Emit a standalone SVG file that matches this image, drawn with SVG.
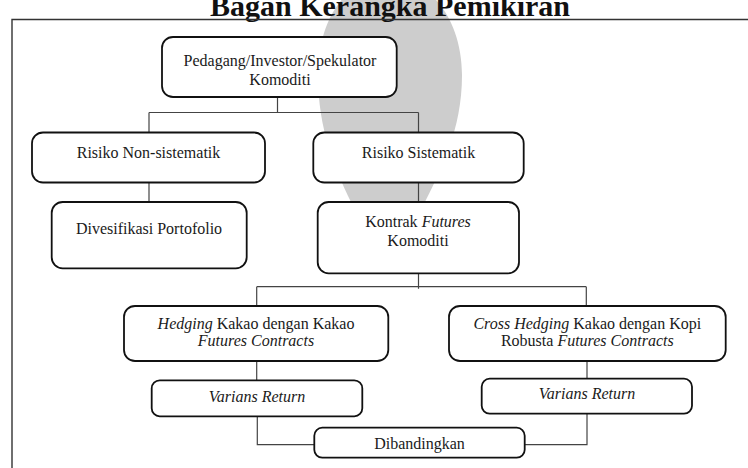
<svg xmlns="http://www.w3.org/2000/svg" width="748" height="468" viewBox="0 0 748 468">
<style>
.box{fill:#fff;stroke:#111;stroke-width:1.8}
.t{font-family:"Liberation Serif","Times New Roman",serif;font-size:16px;fill:#1a1a1a;text-anchor:middle}
.i{font-style:italic}
.conn{fill:none;stroke:#444;stroke-width:1.2}
</style>
<rect width="748" height="468" fill="#fff"/>
<path id="watermark" d="M388,-22 C432,-22 462,22 462,75 C462,130 441,170 421,210 L388,272 L355,210 C335,170 318,130 318,75 C318,22 344,-22 388,-22 Z" fill="#cdcdcd"/>
<text x="390" y="16" font-family="'Liberation Serif','Times New Roman',serif" font-size="30" font-weight="bold" fill="#111" text-anchor="middle">Bagan Kerangka Pemikiran</text>
<path id="frame" d="M12,468 V19.5 H748" fill="none" stroke="#333" stroke-width="1.4"/>
<g id="connectors" class="conn">
<path d="M277.5,97 V112.5 M149,112.5 H418.5 M149,112.5 V132.5 M418.5,112.5 V132.5"/>
<path d="M149,182.5 V202"/>
<path d="M418.5,182.5 V202"/>
<path d="M418.5,273.3 V288.7 M256.7,286.7 H586.3 M256.7,286.7 V306 M586.3,286.7 V306"/>
<path d="M256.7,361 V380.3"/>
<path d="M587,361 V378.7"/>
<path d="M257.3,416.3 V444.7 H314.3"/>
<path d="M587,413.7 V444.7 H524.7"/>
</g>
<g id="n-pedagang">
<rect class="box" x="162" y="37" width="234.7" height="60" rx="11"/>
<text class="t" x="280" y="65.5">Pedagang/Investor/Spekulator</text>
<text class="t" x="280" y="84.5">Komoditi</text>
</g>
<g id="n-nonsistematik">
<rect class="box" x="32" y="132.5" width="233" height="50" rx="11"/>
<text class="t" x="148.5" y="158">Risiko Non-sistematik</text>
</g>
<g id="n-sistematik">
<rect class="box" x="313.3" y="132.5" width="210.4" height="50" rx="11"/>
<text class="t" x="418.5" y="158">Risiko Sistematik</text>
</g>
<g id="n-diversifikasi">
<rect class="box" x="51.7" y="202" width="195" height="66.3" rx="11"/>
<text class="t" x="149" y="234.3">Divesifikasi Portofolio</text>
</g>
<g id="n-kontrak">
<rect class="box" x="317.7" y="202" width="201.3" height="71.3" rx="11"/>
<text class="t" x="418" y="227">Kontrak <tspan class="i">Futures</tspan></text>
<text class="t" x="418" y="246">Komoditi</text>
</g>
<g id="n-hedging">
<rect class="box" x="124" y="306" width="264.3" height="55" rx="11"/>
<text class="t" x="256" y="329"><tspan class="i">Hedging</tspan> Kakao dengan Kakao</text>
<text class="t i" x="256" y="346">Futures Contracts</text>
</g>
<g id="n-crosshedging">
<rect class="box" x="449" y="306" width="276.7" height="55" rx="11"/>
<text class="t" x="587.3" y="329"><tspan class="i">Cross Hedging</tspan> Kakao dengan Kopi</text>
<text class="t" x="587.3" y="346">Robusta <tspan class="i">Futures Contracts</tspan></text>
</g>
<g id="n-varians-left">
<rect class="box" x="151.7" y="380.3" width="210.6" height="36" rx="8"/>
<text class="t i" x="257" y="402">Varians Return</text>
</g>
<g id="n-varians-right">
<rect class="box" x="481.7" y="378.7" width="210.3" height="35" rx="8"/>
<text class="t i" x="587" y="398.7">Varians Return</text>
</g>
<g id="n-dibandingkan">
<rect class="box" x="314.3" y="427.7" width="210.4" height="30" rx="8"/>
<text class="t" x="419.5" y="448.7">Dibandingkan</text>
</g>
</svg>
